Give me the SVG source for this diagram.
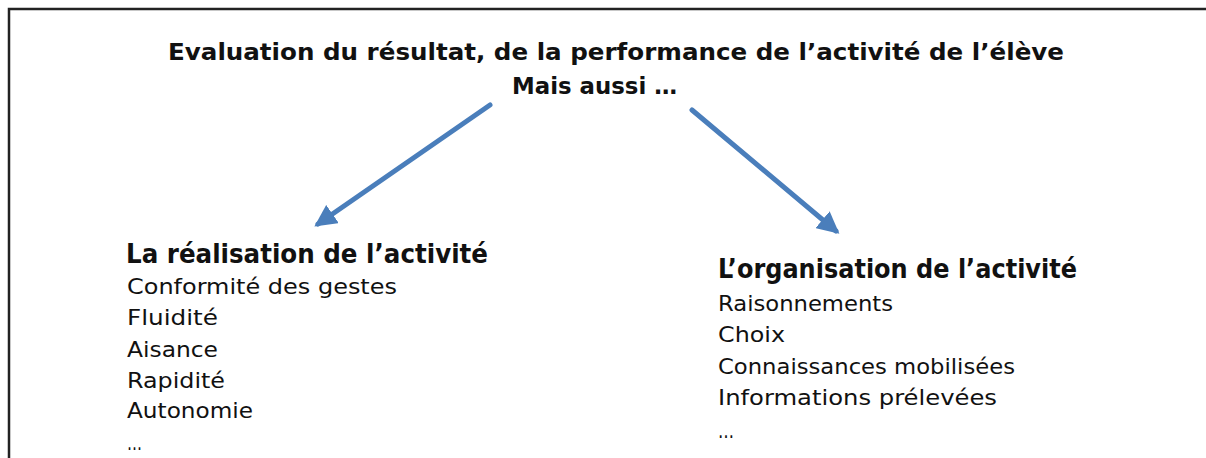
<svg xmlns="http://www.w3.org/2000/svg" width="1206" height="458" viewBox="0 0 1206 458">
<defs>
<style>
.t{font-family:"DejaVu Sans","Noto Sans",sans-serif;fill:#111}
.b{font-weight:bold}
.h{font-size:23px}
.s{font-size:26px}
.i{font-size:22px}
.c{stroke:#4a7ebb;stroke-width:5;fill:none;stroke-linecap:round}
</style>
<marker id="ah" viewBox="0 0 10 10" refX="8" refY="5" markerWidth="4.4" markerHeight="4.4" orient="auto" markerUnits="strokeWidth">
<path d="M0,0 L10,5 L0,10 Z" fill="#4a7ebb"/>
</marker>
</defs>
<rect width="1206" height="458" fill="#fff"/>
<path d="M9,458 V9 H1206" fill="none" stroke="#222" stroke-width="2.5"/>
<g id="title">
<text class="t b h" x="168" y="60" textLength="896" lengthAdjust="spacingAndGlyphs">Evaluation du résultat, de la performance de l’activité de l’élève</text>
<text class="t b h" x="512" y="94" textLength="165" lengthAdjust="spacingAndGlyphs">Mais aussi …</text>
</g>
<g id="connectors">
<line class="c" x1="490" y1="105" x2="318" y2="224" marker-end="url(#ah)"/>
<line class="c" x1="692" y1="110" x2="836" y2="231" marker-end="url(#ah)"/>
</g>
<g id="realisation">
<text class="t b s" x="126" y="263" textLength="362" lengthAdjust="spacingAndGlyphs">La réalisation de l’activité</text>
<text class="t i" x="127" y="294" textLength="270" lengthAdjust="spacingAndGlyphs">Conformité des gestes</text>
<text class="t i" x="127" y="325" textLength="91" lengthAdjust="spacingAndGlyphs">Fluidité</text>
<text class="t i" x="127" y="357" textLength="91" lengthAdjust="spacingAndGlyphs">Aisance</text>
<text class="t i" x="127" y="388" textLength="98" lengthAdjust="spacingAndGlyphs">Rapidité</text>
<text class="t i" x="127" y="418" textLength="126" lengthAdjust="spacingAndGlyphs">Autonomie</text>
<text class="t i" x="127" y="450" textLength="15" lengthAdjust="spacingAndGlyphs">…</text>
</g>
<g id="organisation">
<text class="t b s" x="718" y="278" textLength="359" lengthAdjust="spacingAndGlyphs">L’organisation de l’activité</text>
<text class="t i" x="718" y="311" textLength="175" lengthAdjust="spacingAndGlyphs">Raisonnements</text>
<text class="t i" x="718" y="342" textLength="67" lengthAdjust="spacingAndGlyphs">Choix</text>
<text class="t i" x="718" y="374" textLength="297" lengthAdjust="spacingAndGlyphs">Connaissances mobilisées</text>
<text class="t i" x="718" y="405" textLength="279" lengthAdjust="spacingAndGlyphs">Informations prélevées</text>
<text class="t i" x="718" y="438" textLength="16" lengthAdjust="spacingAndGlyphs">…</text>
</g>
</svg>
